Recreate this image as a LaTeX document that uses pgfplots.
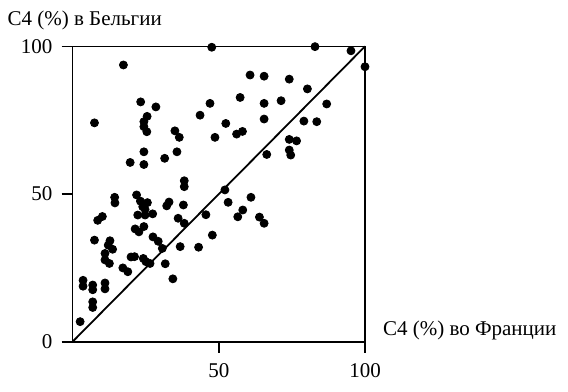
\documentclass[border=0pt]{standalone}
\usepackage{fontspec}
\setmainfont{Liberation Serif}
\usepackage{pgfplots}
\pgfplotsset{compat=1.18}
\begin{document}
\begin{tikzpicture}
\begin{axis}[
  scale only axis,
  width=146.25pt, height=147.7pt,
  xmin=0, xmax=100, ymin=0, ymax=100,
  xtick={50,100}, ytick={0,50,100},
  xtick pos=bottom, ytick pos=left,
  tick align=outside,
  major tick length=5.5pt,
  tick style={black, line width=0.85pt},
  axis line style={line width=0.85pt},
  /pgf/number format/assume math mode=true,
  ticklabel style={font=\fontsize{10.5}{12}\selectfont},
  xticklabel style={yshift=-2pt},
  yticklabel style={xshift=-1pt},
  clip=false,
  xlabel={C4 (\%) во Франции},
  ylabel={C4 (\%) в Бельгии},
  label style={font=\fontsize{10.5}{12}\selectfont},
  xlabel style={at={(rel axis cs:1,0)}, anchor=base west, xshift=5.5pt, yshift=3pt},
  ylabel style={at={(rel axis cs:0,1)}, anchor=base west, rotate=-90, xshift=-36pt, yshift=10.5pt},
]
\path[draw=none] (rel axis cs:-0.248,-0.170) rectangle (rel axis cs:1.694,1.157);
\addplot[black, line width=0.9pt] coordinates {(0,0) (100,100)};
\addplot[only marks, mark=*, mark size=2pt, black] coordinates {
(17.4,93.7) (47.6,99.7) (82.9,99.9) (95.2,98.5) (100,93.1)
(60.7,90.3) (65.5,89.9) (74.1,88.9) (80.3,85.6) (57.3,82.7)
(71.3,81.6) (23.3,81.2) (47.0,80.7) (65.5,80.7) (86.9,80.5)
(28.5,79.5) (43.6,76.7) (25.5,76.3) (65.5,75.4) (79.1,74.7)
(83.5,74.5) (7.5,74.1) (24.4,74.5) (24.4,72.8) (25.4,71.1)
(52.4,73.9) (35.0,71.4) (36.5,69.2) (58.1,71.2) (56.1,70.3)
(48.7,69.2) (74.1,68.5) (76.6,68.0) (74.1,64.9) (74.6,63.2)
(66.4,63.4) (35.7,64.3) (24.4,64.3) (31.5,62.1) (19.7,60.7)
(24.4,60.0) (38.2,54.5) (38.2,52.5) (52.1,51.4) (61.0,48.9)
(53.2,47.2) (58.2,44.6) (56.5,42.3) (63.9,42.2) (65.5,40.1)
(45.6,43.0) (47.8,36.1) (37.9,46.3) (33.0,47.3) (32.2,46.0)
(36.1,41.8) (38.2,40.1) (36.8,32.2) (43.1,32.0) (34.3,21.3)
(31.7,26.4) (30.7,31.6) (27.5,35.5) (29.3,34.0) (21.9,49.7)
(23.2,47.6) (25.6,47.1) (24.0,45.7) (24.8,44.8) (22.3,42.9)
(24.8,42.9) (27.4,43.3) (24.4,39.0) (21.4,38.2) (22.7,37.2)
(14.4,48.9) (14.5,47.0) (10.2,42.4) (8.6,41.1) (7.5,34.4)
(12.8,34.2) (12.2,32.7) (13.7,31.3) (11.1,29.9) (11.1,27.7)
(12.6,26.5) (20.0,28.7) (21.2,28.8) (24.2,28.2) (25.1,27.1)
(26.5,26.5) (17.2,25.0) (18.9,23.7) (3.6,20.8) (3.6,18.8)
(6.9,19.2) (6.9,17.6) (11.1,19.9) (11.1,17.9) (6.9,13.5)
(6.9,11.6) (2.6,6.8)
};
\end{axis}
\end{tikzpicture}
\end{document}
